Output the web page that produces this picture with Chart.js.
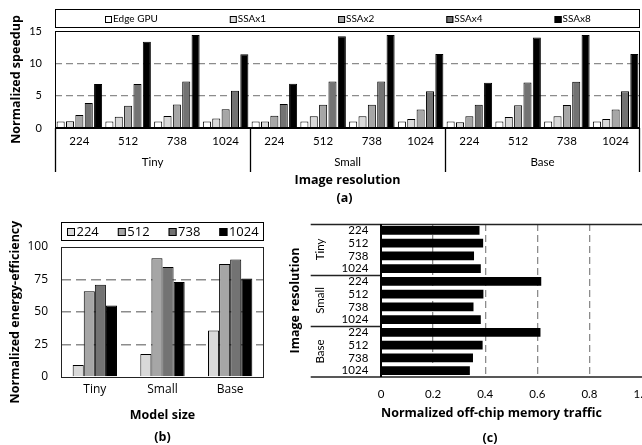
<!DOCTYPE html>
<html><head><meta charset="utf-8">
<script src="https://cdn.jsdelivr.net/npm/chart.js@4/dist/chart.umd.min.js"></script>
<style>
html,body{margin:0;padding:0;background:#fff;overflow:hidden;width:642px;height:445px;position:relative;}
canvas{position:absolute;display:block;}
</style></head><body>
<canvas id="ca" width="642" height="210" style="left:0;top:0"></canvas>
<canvas id="cb" width="290" height="245" style="left:0;top:200px"></canvas>
<canvas id="cc" width="375" height="245" style="left:285px;top:200px"></canvas>
<script>
// ---------- data ----------
const modelSizes = ['Tiny', 'Small', 'Base'];
const resolutions = ['224', '512', '738', '1024'];
const speedupSeries = ['Edge GPU', 'SSAx1', 'SSAx2', 'SSAx4', 'SSAx8'];
const edgeGpu = [1, 1, 1, 1, 1, 1, 1, 1, 1, 1, 1, 1];
const ssax1 = [1.05, 1.75, 1.85, 1.45, 1.0, 1.8, 1.8, 1.4, 0.9, 1.7, 1.8, 1.4];
const ssax2 = [2.0, 3.45, 3.65, 2.9, 1.9, 3.6, 3.6, 2.85, 1.8, 3.5, 3.55, 2.85];
const ssax4 = [3.85, 6.8, 7.2, 5.75, 3.7, 7.2, 7.2, 5.7, 3.6, 7.05, 7.15, 5.7];
const ssax8 = [6.8, 13.35, 14.4, 11.4, 6.85, 14.2, 14.4, 11.45, 7.0, 14.0, 14.4, 11.45];
const speedupTicks = [0, 5, 10, 15];

const energySeries = ['224', '512', '738', '1024'];
const energy224 = [9.2, 17.6, 35.7];
const energy512 = [66, 91.3, 87];
const energy738 = [71, 84.7, 90.3];
const energy1024 = [55, 73, 75.8];
const energyTicks = [0, 25, 50, 75, 100];

const traffic = [0.378, 0.392, 0.357, 0.383, 0.615, 0.393, 0.355, 0.383, 0.612, 0.39, 0.353, 0.341];
const trafficTicks = [0, 0.2, 0.4, 0.6, 0.8, 1];

// ---------- helpers ----------
const greys4 = ['#d9d9d9', '#a6a6a6', '#737373', '#000000'];
const greys5 = ['#ffffff', '#d9d9d9', '#a6a6a6', '#737373', '#000000'];
const LATO = 'Lato, "DejaVu Sans", sans-serif';
const OPEN = '"Open Sans", "DejaVu Sans", sans-serif';
Chart.defaults.color = '#000';
Chart.defaults.animation = false;
const groupedLabels = modelSizes.flatMap(() => resolutions);

function drawLegend(chart, box, opt) {
  const ctx = chart.ctx;
  const items = chart.data.datasets.map(d => ({label: d.label, fill: d.backgroundColor}));
  ctx.save();
  ctx.strokeStyle = '#000'; ctx.lineWidth = 1;
  ctx.strokeRect(box.x + 0.5, box.y + 0.5, box.w - 1, box.h);
  ctx.font = opt.font; ctx.textBaseline = 'middle'; ctx.textAlign = 'left';
  const widths = items.map(it => opt.sq + opt.tg + ctx.measureText(it.label).width);
  const total = widths.reduce((s, w) => s + w, 0) + opt.gap * (items.length - 1);
  let x = Math.round(box.x + box.w / 2 - total / 2);
  const cy = box.y + box.h / 2 + 1;
  items.forEach((it, i) => {
    const sy = Math.round(cy - opt.sq / 2);
    ctx.fillStyle = it.fill;
    ctx.fillRect(x, sy, opt.sq, opt.sq);
    ctx.strokeStyle = '#000';
    ctx.strokeRect(x + 0.5, sy + 0.5, opt.sq - 1, opt.sq - 1);
    ctx.fillStyle = '#000';
    ctx.fillText(it.label, x + opt.sq + opt.tg, cy);
    x += widths[i] + opt.gap;
  });
  ctx.restore();
}
function caption(chart, text, x, y) {
  const ctx = chart.ctx;
  ctx.save();
  ctx.font = 'bold 12.5px ' + OPEN;
  ctx.fillStyle = '#000'; ctx.textAlign = 'center'; ctx.textBaseline = 'middle';
  ctx.fillText(text, x, y);
  ctx.restore();
}
function hideEdges(vals) {
  return c => (c.tick && vals.includes(c.tick.value)) ? 'rgba(0,0,0,0)' : '#8c8c8c';
}

// ---------- (a) speedup ----------
const plugA = {
  id: 'plugA',
  afterDatasetsDraw(chart) {
    const {ctx, chartArea: a, scales: {x: xs}} = chart;
    ctx.save();
    ctx.strokeStyle = '#000'; ctx.lineWidth = 1;
    ctx.strokeRect(a.left + 0.5, a.top + 0.5, a.right - a.left - 1, a.bottom - a.top);
    ctx.lineWidth = 2;
    ctx.beginPath(); ctx.moveTo(a.left, a.bottom); ctx.lineTo(a.right, a.bottom); ctx.stroke();
    const n = modelSizes.length, m = resolutions.length;
    ctx.lineWidth = 1.3;
    for (let k = 0; k <= n; k++) {
      let x;
      if (k === 0) x = a.left + 0.5;
      else if (k === n) x = a.right - 0.5;
      else x = Math.round((xs.getPixelForValue(k * m - 1) + xs.getPixelForValue(k * m)) / 2) + 0.5;
      ctx.beginPath(); ctx.moveTo(x, a.bottom); ctx.lineTo(x, a.bottom + 44); ctx.stroke();
    }
    ctx.font = '11.5px ' + LATO; ctx.fillStyle = '#000';
    ctx.textAlign = 'center'; ctx.textBaseline = 'middle';
    for (let k = 0; k < n; k++) {
      const cx = (xs.getPixelForValue(k * m) + xs.getPixelForValue(k * m + m - 1)) / 2;
      ctx.fillText(modelSizes[k], cx, a.bottom + 34.5);
    }
    ctx.restore();
    drawLegend(chart, {x: a.left, y: 9, w: a.right - a.left, h: 18},
      {font: '10px ' + LATO, sq: 7, tg: 1, gap: 72});
    caption(chart, '(a)', (a.left + a.right) / 2 - 3, 198);
  }
};
const series5 = [edgeGpu, ssax1, ssax2, ssax4, ssax8];
new Chart(document.getElementById('ca'), {
  type: 'bar',
  data: {
    labels: groupedLabels,
    datasets: speedupSeries.map((name, i) => ({
      label: name, data: series5[i], backgroundColor: greys5[i],
      borderColor: '#000', borderWidth: 1, borderSkipped: 'bottom',
      categoryPercentage: 0.96, barPercentage: 0.86
    }))
  },
  options: {
    responsive: false, animation: false,
    layout: {padding: {top: 31, left: 0, right: 2, bottom: 0}},
    plugins: {legend: {display: false}, tooltip: {enabled: false}},
    scales: {
      x: {
        grid: {display: false, drawTicks: false}, border: {display: false},
        ticks: {font: {family: LATO, size: 11.5}, padding: 6.8, autoSkip: false, maxRotation: 0},
        title: {display: true, text: 'Image resolution', font: {family: OPEN, size: 12.5, weight: 'bold'},
                padding: {top: 0, bottom: 21.8}},
        afterFit: s => { s.height = 82; }
      },
      y: {
        min: 0, max: 15,
        afterBuildTicks: s => { s.ticks = speedupTicks.map(v => ({value: v})); },
        grid: {color: hideEdges([0, 15]), lineWidth: 1.3, drawTicks: false},
        border: {display: false, dash: [7, 4]},
        ticks: {font: {family: LATO, size: 11}, padding: 13},
        title: {display: true, text: 'Normalized speedup', font: {family: OPEN, size: 12.5, weight: 'bold'},
                padding: {top: 9.2, bottom: 0}},
        afterFit: s => { s.width = 55; }
      }
    }
  },
  plugins: [plugA]
});

// ---------- (b) energy efficiency ----------
const plugB = {
  id: 'plugB',
  afterDatasetsDraw(chart) {
    const {ctx, chartArea: a} = chart;
    ctx.save();
    ctx.strokeStyle = '#222'; ctx.lineWidth = 1;
    ctx.strokeRect(a.left + 0.5, a.top + 0.5, a.right - a.left - 1, a.bottom - a.top);
    ctx.restore();
    drawLegend(chart, {x: a.left, y: 22, w: a.right - a.left, h: 18},
      {font: '13px ' + OPEN, sq: 8, tg: 1.5, gap: 19});
    caption(chart, '(b)', (a.left + a.right) / 2, 237.5);
  }
};
const series4 = [energy224, energy512, energy738, energy1024];
new Chart(document.getElementById('cb'), {
  type: 'bar',
  data: {
    labels: modelSizes,
    datasets: energySeries.map((name, i) => ({
      label: name, data: series4[i], backgroundColor: greys4[i],
      borderColor: '#000', borderWidth: 1,
      categoryPercentage: 0.655, barPercentage: 1.0
    }))
  },
  options: {
    responsive: false, animation: false,
    layout: {padding: {top: 47, left: 0, right: 26, bottom: 0}},
    plugins: {legend: {display: false}, tooltip: {enabled: false}},
    scales: {
      x: {
        grid: {display: false, drawTicks: false}, border: {display: false},
        ticks: {font: {family: OPEN, size: 12}, padding: 5.8, maxRotation: 0},
        title: {display: true, text: 'Model size', font: {family: OPEN, size: 12.5, weight: 'bold'},
                padding: {top: 0, bottom: 22.5}},
        afterFit: s => { s.height = 68; }
      },
      y: {
        min: 0, max: 100,
        afterBuildTicks: s => { s.ticks = energyTicks.map(v => ({value: v})); },
        grid: {color: hideEdges([0, 100]), lineWidth: 1.4, drawTicks: false},
        border: {display: false, dash: [10, 5]},
        ticks: {font: {family: OPEN, size: 12}, padding: 13},
        title: {display: true, text: 'Normalized energy-efficiency', font: {family: OPEN, size: 12.5, weight: 'bold'},
                padding: {top: 8.2, bottom: 0}},
        afterFit: s => { s.width = 61; }
      }
    }
  },
  plugins: [plugB]
});

// ---------- (c) off-chip memory traffic ----------
const plugC = {
  id: 'plugC',
  afterDatasetsDraw(chart) {
    const {ctx, chartArea: a, scales: {y: ys}, width} = chart;
    const n = modelSizes.length, m = resolutions.length;
    const x0 = 25.7;
    ctx.save();
    ctx.strokeStyle = '#222'; ctx.lineWidth = 1.3;
    ctx.beginPath();
    ctx.moveTo(x0, a.top + 0.5); ctx.lineTo(width, a.top + 0.5);
    ctx.moveTo(x0, a.bottom); ctx.lineTo(width, a.bottom);
    for (let k = 1; k < n; k++) {
      const y = Math.round((ys.getPixelForValue(k * m - 1) + ys.getPixelForValue(k * m)) / 2) + 0.5;
      ctx.moveTo(x0, y); ctx.lineTo(a.left, y);
    }
    ctx.stroke();
    ctx.strokeStyle = '#000'; ctx.lineWidth = 2;
    ctx.beginPath(); ctx.moveTo(a.left, a.top); ctx.lineTo(a.left, a.bottom); ctx.stroke();
    ctx.font = '11.5px ' + LATO; ctx.fillStyle = '#000';
    ctx.textAlign = 'center'; ctx.textBaseline = 'middle';
    for (let k = 0; k < n; k++) {
      const cy = (ys.getPixelForValue(k * m) + ys.getPixelForValue(k * m + m - 1)) / 2;
      ctx.save(); ctx.translate(35, cy); ctx.rotate(-Math.PI / 2);
      ctx.fillText(modelSizes[k], 0, 0); ctx.restore();
    }
    ctx.restore();
    caption(chart, '(c)', 205, 238);
  }
};
new Chart(document.getElementById('cc'), {
  type: 'bar',
  data: {
    labels: groupedLabels,
    datasets: [{label: 'Normalized off-chip memory traffic', data: traffic, backgroundColor: '#000',
                borderWidth: 0, categoryPercentage: 1.0, barPercentage: 0.68}]
  },
  options: {
    indexAxis: 'y',
    responsive: false, animation: false,
    layout: {padding: {top: 24, left: 0, right: 18, bottom: 0}},
    plugins: {legend: {display: false}, tooltip: {enabled: false}},
    scales: {
      x: {
        min: 0, max: 1,
        afterBuildTicks: s => { s.ticks = trafficTicks.map(v => ({value: v})); },
        grid: {color: hideEdges([0, 1]), lineWidth: 1.3, drawTicks: false},
        border: {display: false, dash: [7, 4]},
        ticks: {font: {family: LATO, size: 11.5}, padding: 10.4, maxRotation: 0},
        title: {display: true, text: 'Normalized off-chip memory traffic', align: 'start',
                font: {family: OPEN, size: 12.5, weight: 'bold'}, padding: {top: 0, bottom: 24.5}},
        afterFit: s => { s.height = 68; }
      },
      y: {
        grid: {display: false, drawTicks: false}, border: {display: false},
        ticks: {font: {family: LATO, size: 11.5}, padding: 12.7, autoSkip: false},
        title: {display: true, text: 'Image resolution', font: {family: OPEN, size: 12.5, weight: 'bold'},
                padding: {top: 2.5, bottom: 0}},
        afterFit: s => { s.width = 96; }
      }
    }
  },
  plugins: [plugC]
});
</script>
</body></html>
